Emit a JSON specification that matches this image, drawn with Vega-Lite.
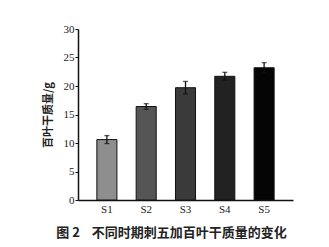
{
  "$schema": "https://vega.github.io/schema/vega-lite/v6.json",
  "autosize": "none",
  "width": 215,
  "height": 171,
  "padding": {"left": 78, "top": 29, "right": 36, "bottom": 47},
  "background": "white",
  "config": {
    "view": {"stroke": null},
    "axisY": {
      "labelOverlap": false,
      "grid": false,
      "titleFont": "Noto Sans CJK SC",
      "titleFontSize": 11,
      "titleFontWeight": "bold",
      "titleColor": "#222",
      "titlePadding": 10,
      "labelFont": "Liberation Serif", "labelFontSize": 11, "labelColor": "#222",
      "labelPadding": 1,
      "tickSize": 3, "tickColor": "#111", "tickWidth": 1,
      "domainColor": "#111", "domainWidth": 1.5
    }
  },
  "data": {"values": [
    {"stage": "S1", "mass": 10.6, "lo": 9.9, "hi": 11.3},
    {"stage": "S2", "mass": 16.4, "lo": 15.9, "hi": 16.9},
    {"stage": "S3", "mass": 19.7, "lo": 18.6, "hi": 20.8},
    {"stage": "S4", "mass": 21.7, "lo": 21.0, "hi": 22.4},
    {"stage": "S5", "mass": 23.2, "lo": 22.3, "hi": 24.1}
  ]},
  "title": {
    "text": "图 2\u00a0\u00a0\u00a0\u00a0不同时期刺五加百叶干质量的变化",
    "orient": "bottom",
    "anchor": "middle",
    "offset": 13,
    "font": "Noto Sans CJK SC",
    "fontSize": 13,
    "fontWeight": "bold",
    "color": "#222",
    "dx": -14
  },
  "encoding": {
    "x": {
      "field": "stage", "type": "nominal",
      "scale": {"paddingInner": 0.49, "paddingOuter": 0.48},
      "axis": {
        "title": null, "labelAngle": 0, "ticks": false,
        "domainColor": "#111", "domainWidth": 1.5,
        "labelFont": "Liberation Serif", "labelFontSize": 11, "labelColor": "#222",
        "labelPadding": 3
      }
    }
  },
  "layer": [
    {
      "mark": {"type": "bar", "stroke": "#111", "strokeWidth": 1},
      "encoding": {
        "y": {
          "field": "mass", "type": "quantitative",
          "scale": {"domain": [0, 30]},
          "axis": {"values": [0, 5, 10, 15, 20, 25, 30], "title": "百叶干质量/g"}
        },
        "color": {
          "field": "stage", "type": "nominal",
          "scale": {"domain": ["S1","S2","S3","S4","S5"], "range": ["#8e8e8e","#555555","#3a3a3a","#222222","#050505"]},
          "legend": null
        }
      }
    },
    {
      "mark": {"type": "rule", "color": "#111", "strokeWidth": 1.3},
      "encoding": {
        "y": {"field": "lo", "type": "quantitative", "axis": {"values": [0, 5, 10, 15, 20, 25, 30], "title": "百叶干质量/g"}},
        "y2": {"field": "hi"}
      }
    },
    {
      "mark": {"type": "tick", "color": "#111", "size": 5, "thickness": 1.3},
      "encoding": {"y": {"field": "lo", "type": "quantitative", "axis": {"values": [0, 5, 10, 15, 20, 25, 30], "title": "百叶干质量/g"}}}
    },
    {
      "mark": {"type": "tick", "color": "#111", "size": 5, "thickness": 1.3},
      "encoding": {"y": {"field": "hi", "type": "quantitative", "axis": {"values": [0, 5, 10, 15, 20, 25, 30], "title": "百叶干质量/g"}}}
    }
  ]
}
